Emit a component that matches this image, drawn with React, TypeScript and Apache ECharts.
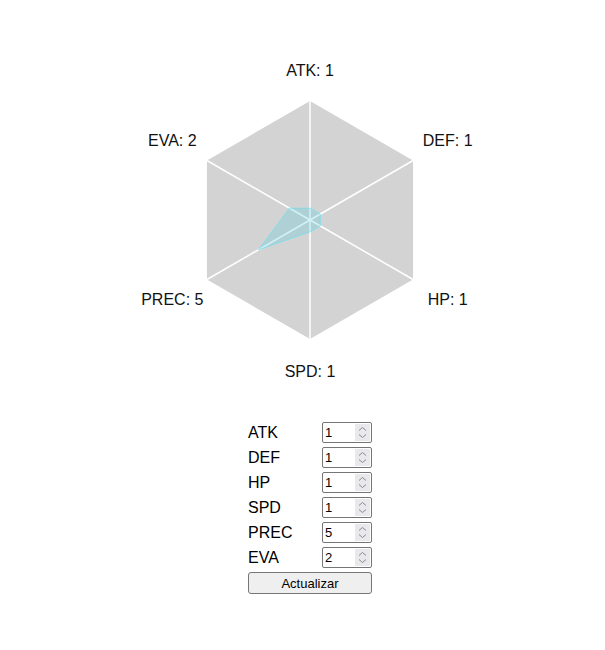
import React, { useEffect, useRef } from "react";
import * as echarts from "echarts";

const statNames = ["ATK", "DEF", "HP", "SPD", "PREC", "EVA"];
const statValues = [1, 1, 1, 1, 5, 2];
const statMax = 10;
const buttonLabel = "Actualizar";

const FONT = '"Liberation Sans", Arial, sans-serif';

// ECharts places radar indicators counter-clockwise; the reference runs clockwise from the top.
const displayOrder = statNames.map((_, j) => (j === 0 ? 0 : statNames.length - j));

function Spinner() {
  return (
    <svg width="15" height="17" style={{ position: "absolute", right: 2, top: 2, pointerEvents: "none" }}>
      <rect x="0" y="0" width="15" height="17" fill="#e9e9ed" />
      <polyline points="4,6.5 7.5,3.5 11,6.5" fill="none" stroke="#8a8a8a" strokeWidth="1" />
      <polyline points="4,10.5 7.5,13.5 11,10.5" fill="none" stroke="#8a8a8a" strokeWidth="1" />
    </svg>
  );
}

export default function App() {
  const ref = useRef<HTMLDivElement>(null);

  useEffect(() => {
    if (!ref.current) return;
    const chart = echarts.init(ref.current, undefined, { renderer: "svg" });
    const n = statNames.length;
    const names = displayOrder.map((i) => statNames[i]);
    const values = displayOrder.map((i) => statValues[i]);
    const option = {
      animation: false,
      radar: {
        center: [302, 212],
        radius: 119,
        startAngle: 90,
        shape: "polygon",
        splitNumber: 1,
        nameGap: 40,
        indicator: names.map((name) => ({ name, min: 0, max: statMax })),
        axisName: {
          color: "#111",
          fontSize: 16,
          fontFamily: FONT,
          align: "center",
          verticalAlign: "middle",
          formatter: (name: string) => {
            const j = names.indexOf(name);
            const label = `${name}: ${values[j]}`;
            const ang = 90 + (360 / n) * j;
            const s = Math.sin((ang * Math.PI) / 180);
            if (s > 0.9) return `{g18| }\n{t|${label}}`;
            if (s < -0.9) return `{t|${label}}\n{g16| }`;
            return `{t|${label}}`;
          },
          rich: {
            t: { fontSize: 16, fontFamily: FONT, color: "#111", lineHeight: 20 },
            g18: { fontSize: 4, lineHeight: 18 },
            g16: { fontSize: 4, lineHeight: 16 },
          },
        },
        splitArea: { show: true, areaStyle: { color: ["#d3d3d3"] } },
        splitLine: { show: false },
        axisLine: { show: true, lineStyle: { color: "#ffffff", width: 1.5 } },
        axisTick: { show: false },
        axisLabel: { show: false },
      },
      series: [
        {
          type: "radar",
          symbol: "none",
          data: [
            {
              value: values,
              name: "Stats",
              lineStyle: { color: "rgba(120,230,245,0.7)", width: 1 },
              areaStyle: { color: "rgba(64,200,220,0.35)" },
            },
          ],
        },
      ],
    };
    chart.setOption(option as any);
    return () => chart.dispose();
  }, []);

  return (
    <div style={{ width: 604, fontFamily: FONT }}>
      <div ref={ref} style={{ width: 604, height: 412 }} />
      <div style={{ marginLeft: 240, width: 124 }}>
        {statNames.map((name, i) => (
          <div key={name} style={{ display: "flex", alignItems: "center", height: 25 }}>
            <span style={{ width: 74, fontSize: 16, color: "#000" }}>{name}</span>
            <span style={{ position: "relative", display: "inline-block", width: 50, height: 21 }}>
              <input
                type="number"
                defaultValue={statValues[i]}
                style={{
                  width: 50,
                  height: 21,
                  boxSizing: "border-box",
                  fontSize: 13,
                  fontFamily: FONT,
                  padding: "1px 2px",
                  border: "1px solid #767676",
                  borderRadius: 2,
                }}
              />
              <Spinner />
            </span>
          </div>
        ))}
        <button
          style={{
            width: 124,
            height: 22,
            marginTop: 2,
            fontSize: 13,
            fontFamily: FONT,
            background: "#efefef",
            border: "1px solid #767676",
            borderRadius: 3,
          }}
        >
          {buttonLabel}
        </button>
      </div>
    </div>
  );
}
